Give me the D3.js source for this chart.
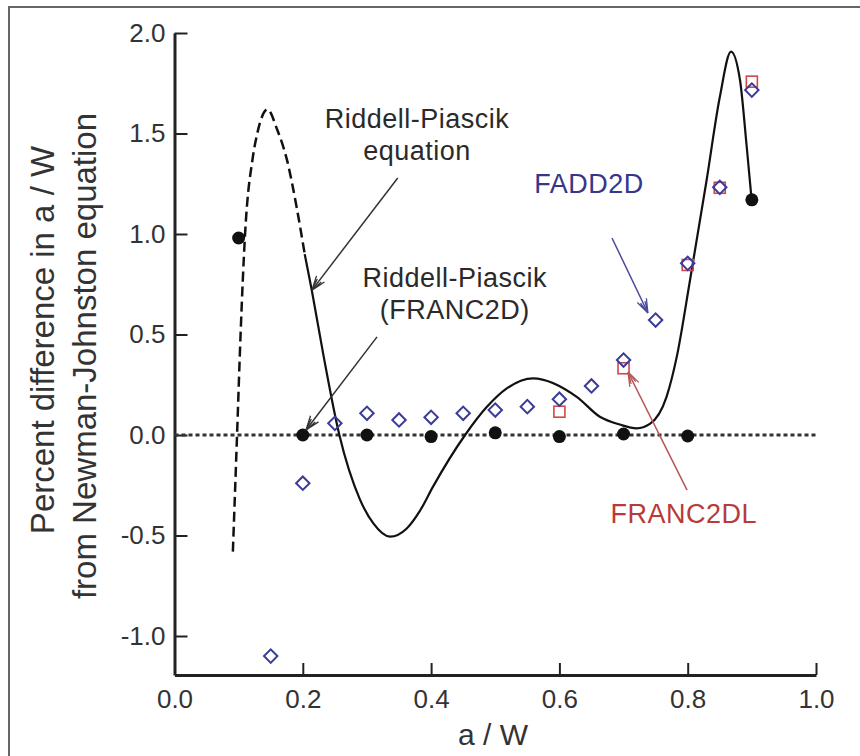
<!DOCTYPE html>
<html>
<head>
<meta charset="utf-8">
<script src="https://cdn.jsdelivr.net/npm/d3@7/dist/d3.min.js"></script>
<style>
  body{margin:0;background:#fff}
  svg{display:block;font-family:Arial,"Liberation Sans",sans-serif}
</style>
</head>
<body>
<div id="chart"></div>
<script>
// ---------------- data ----------------
// Riddell-Piascik (FRANC2D) - filled circles
const franc2dX = [0.1, 0.2, 0.3, 0.4, 0.5, 0.6, 0.7, 0.8, 0.9]
const franc2dY = [0.98, 0.0, 0.0, -0.008, 0.011, -0.008, 0.005, -0.005, 1.17]

// FADD2D - open diamonds
const fadd2dX = [0.15, 0.2, 0.25, 0.3, 0.35, 0.4, 0.45, 0.5, 0.55, 0.6, 0.65, 0.7, 0.75, 0.8, 0.85, 0.9]
const fadd2dY = [-1.10, -0.24, 0.058, 0.108, 0.075, 0.088, 0.108, 0.124, 0.141, 0.178, 0.244, 0.373, 0.572, 0.854, 1.232, 1.716]

// FRANC2DL - open squares
const franc2dlX = [0.6, 0.7, 0.8, 0.85, 0.9]
const franc2dlY = [0.116, 0.332, 0.846, 1.23, 1.758]

// Riddell-Piascik equation (dashed outside its range, solid inside)
const eqDashX = [0.091, 0.0975, 0.103, 0.110, 0.122, 0.129, 0.145, 0.160, 0.176, 0.190, 0.203]
const eqDashY = [-0.58, 0.0, 0.5, 1.0, 1.38, 1.5, 1.62, 1.52, 1.36, 1.14, 0.9]
const eqSolidX = [0.203, 0.214, 0.232, 0.257, 0.289, 0.31, 0.336, 0.362, 0.383, 0.403, 0.453, 0.487, 0.518, 0.559, 0.627, 0.663, 0.694, 0.7205, 0.741, 0.767, 0.783, 0.8036, 0.8296, 0.85, 0.8675, 0.8815, 0.892, 0.8997]
const eqSolidY = [0.9, 0.72, 0.4, 0.0, -0.32, -0.44, -0.506, -0.465, -0.375, -0.257, 0.0, 0.14, 0.232, 0.282, 0.19, 0.091, 0.052, 0.033, 0.055, 0.19, 0.39, 0.77, 1.27, 1.68, 1.907, 1.766, 1.434, 1.169]

const xTicks = [0, 0.2, 0.4, 0.6, 0.8, 1.0]
const yTicks = [-1.0, -0.5, 0.0, 0.5, 1.0, 1.5, 2.0]

// annotations: text lines + arrow (from -> to), in data units
const notes = [
  {lines:['Riddell-Piascik','equation'], x:0.378, y:1.527, color:'#2a2a2a',
   arrow:[[0.348,1.279],[0.2143,0.721]], arrowColor:'#333'},
  {lines:['Riddell-Piascik','(FRANC2D)'], x:0.437, y:0.736, color:'#2a2a2a',
   arrow:[[0.3157,0.488],[0.205,0.025]], arrowColor:'#333'},
  {lines:['FADD2D'], x:0.646, y:1.204, color:'#36368a',
   arrow:[[0.682,0.98],[0.738,0.607]], arrowColor:'#4a4a9c'},
  {lines:['FRANC2DL'], x:0.794, y:-0.438, color:'#b83a3a',
   arrow:[[0.799,-0.274],[0.707,0.313]], arrowColor:'#b85858'}
]

// ---------------- drawing ----------------
const W = 860, H = 756
const svg = d3.select('#chart').append('svg').attr('width', W).attr('height', H)

// outer frame
svg.append('rect').attr('x', 9).attr('y', 7).attr('width', 900).attr('height', 900)
  .attr('fill', 'none').attr('stroke', '#666').attr('stroke-width', 2)

const x = d3.scaleLinear().domain([0, 1]).range([174.5, 816])
const y = d3.scaleLinear().domain([-1.194, 2.0]).range([675, 33])

const fmt = d => d.toFixed(1)

const gx = svg.append('g').attr('transform', `translate(0,${y.range()[0]})`)
  .call(d3.axisBottom(x).tickValues(xTicks).tickFormat(fmt).tickSizeInner(-12).tickSizeOuter(0).tickPadding(15))
const gy = svg.append('g').attr('transform', `translate(${x.range()[0]},0)`)
  .call(d3.axisLeft(y).tickValues(yTicks).tickFormat(fmt).tickSizeInner(-13).tickSizeOuter(0).tickPadding(9))

;[gx, gy].forEach(g => {
  g.select('.domain').attr('stroke', '#222').attr('stroke-width', 3)
  g.selectAll('.tick line').attr('stroke', '#222').attr('stroke-width', 2)
  g.selectAll('.tick text').attr('fill', '#333').style('font-size', '26px').style('font-family', 'Arial,"Liberation Sans",sans-serif')
})
gx.selectAll('.tick text').attr('dy', '0.71em')

// zero reference line
svg.append('line')
  .attr('x1', x(0)).attr('x2', x(1)).attr('y1', y(0)).attr('y2', y(0))
  .attr('stroke', '#333').attr('stroke-width', 3).attr('stroke-dasharray', '4,3')

// equation curve
const line = d3.line().x(d => x(d[0])).y(d => y(d[1])).curve(d3.curveMonotoneX)
svg.append('path').datum(d3.zip(eqDashX, eqDashY)).attr('d', line)
  .attr('fill', 'none').attr('stroke', '#111').attr('stroke-width', 2.5).attr('stroke-dasharray', '10,5')
svg.append('path').datum(d3.zip(eqSolidX, eqSolidY)).attr('d', line)
  .attr('fill', 'none').attr('stroke', '#111').attr('stroke-width', 2.2)

// FRANC2DL squares
svg.append('g').selectAll('rect').data(d3.zip(franc2dlX, franc2dlY)).join('rect')
  .attr('x', d => x(d[0]) - 5.5).attr('y', d => y(d[1]) - 5.5)
  .attr('width', 11).attr('height', 11)
  .attr('fill', 'none').attr('stroke', '#d04848').attr('stroke-width', 1.6)

// FADD2D diamonds
const diamond = d3.symbol().type(d3.symbolSquare).size(90)
svg.append('g').selectAll('path').data(d3.zip(fadd2dX, fadd2dY)).join('path')
  .attr('d', diamond)
  .attr('transform', d => `translate(${x(d[0])},${y(d[1])}) rotate(45)`)
  .attr('fill', 'none').attr('stroke', '#3b3b9a').attr('stroke-width', 2)

// FRANC2D circles
svg.append('g').selectAll('circle').data(d3.zip(franc2dX, franc2dY)).join('circle')
  .attr('cx', d => x(d[0])).attr('cy', d => y(d[1])).attr('r', 6.5)
  .attr('fill', '#111')

// annotations
const ann = svg.append('g')
notes.forEach(n => {
  const [p0, p1] = n.arrow
  const x0 = x(p0[0]), y0 = y(p0[1]), x1 = x(p1[0]), y1 = y(p1[1])
  const ang = Math.atan2(y1 - y0, x1 - x0) * 180 / Math.PI
  ann.append('line').attr('x1', x0).attr('y1', y0).attr('x2', x1).attr('y2', y1)
    .attr('stroke', n.arrowColor).attr('stroke-width', 1.5)
  // feathered open arrowhead
  ann.append('path')
    .attr('d', 'M0,0L-14,-5M0,0L-14,5M0,0L-12,-2.5M0,0L-12,2.5')
    .attr('transform', `translate(${x1},${y1}) rotate(${ang})`)
    .attr('fill', 'none').attr('stroke', n.arrowColor).attr('stroke-width', 1.3)

  const t = ann.append('text').attr('text-anchor', 'middle')
    .attr('fill', n.color).style('font-size', '27px').style('letter-spacing', '0.5px')
  n.lines.forEach((s, i) => {
    t.append('tspan').attr('x', x(n.x)).attr('y', y(n.y) + i * 32).text(s)
  })
})

// axis titles
svg.append('text').attr('x', 493).attr('y', 745).attr('text-anchor', 'middle')
  .attr('fill', '#333').style('font-size', '30px').text('a / W')

svg.append('text').attr('transform', 'translate(54,340) rotate(-90)').attr('text-anchor', 'middle')
  .attr('fill', '#333').style('font-size', '33px').text('Percent difference in a / W')
svg.append('text').attr('transform', 'translate(96,356) rotate(-90)').attr('text-anchor', 'middle')
  .attr('fill', '#333').style('font-size', '33px').text('from Newman-Johnston equation')
</script>
</body>
</html>
